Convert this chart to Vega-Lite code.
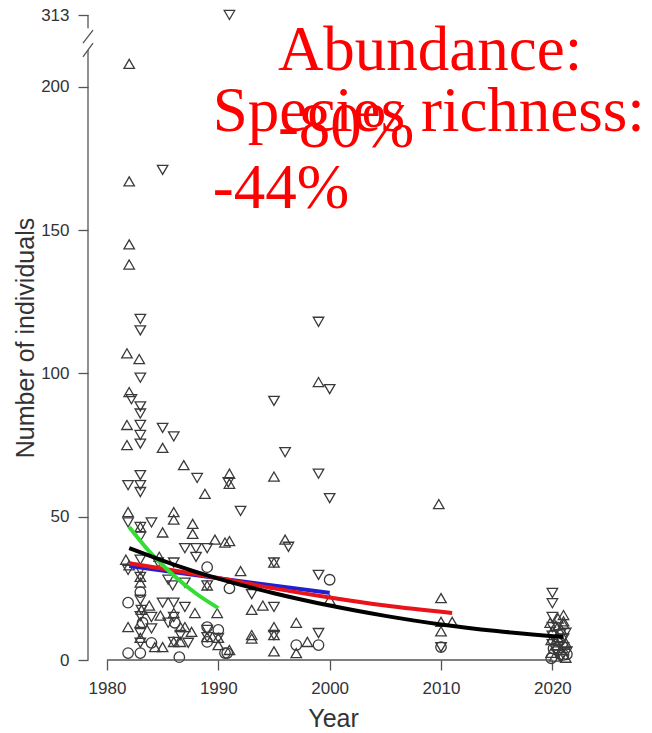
{
  "$schema": "https://vega.github.io/schema/vega-lite/v6.json",
  "width": 490,
  "height": 650,
  "autosize": "none",
  "padding": {"left": 88, "top": 10, "right": 74, "bottom": 73},
  "background": "white",
  "config": {"view": {"stroke": null}, "axis": {"grid": false}},
  "datasets": {
    "points": [
      {"year":1982.0,"count":208,"type":"up"},{"year":1982.0,"count":167,"type":"up"},{"year":1982.0,"count":145,"type":"up"},{"year":1982.0,"count":138,"type":"up"},
      {"year":1985.0,"count":171,"type":"down"},{"year":1991.0,"count":313,"type":"down"},
      {"year":1983.0,"count":119,"type":"down"},{"year":1983.0,"count":115,"type":"down"},{"year":1981.8,"count":107,"type":"up"},{"year":1982.9,"count":105,"type":"up"},
      {"year":1983.0,"count":98.5,"type":"down"},{"year":1982.0,"count":93.5,"type":"up"},{"year":1982.2,"count":91,"type":"down"},{"year":1983.0,"count":88.5,"type":"down"},
      {"year":1983.0,"count":86,"type":"down"},{"year":1981.8,"count":82,"type":"up"},{"year":1983.0,"count":82,"type":"down"},{"year":1983.0,"count":78.5,"type":"down"},
      {"year":1983.0,"count":75.5,"type":"down"},{"year":1981.8,"count":75,"type":"up"},{"year":1985.0,"count":81,"type":"down"},{"year":1986.0,"count":78,"type":"down"},
      {"year":1985.0,"count":74,"type":"up"},{"year":1986.9,"count":68,"type":"up"},{"year":1988.1,"count":63.5,"type":"down"},{"year":1983.0,"count":64.5,"type":"down"},
      {"year":1981.9,"count":61,"type":"down"},{"year":1983.0,"count":61,"type":"down"},{"year":1983.0,"count":58.6,"type":"down"},{"year":1988.8,"count":58,"type":"up"},
      {"year":1981.9,"count":51.6,"type":"up"},{"year":1986.0,"count":51.6,"type":"up"},{"year":1986.0,"count":49,"type":"up"},{"year":1981.9,"count":48,"type":"down"},
      {"year":1984.0,"count":48,"type":"down"},{"year":1983.0,"count":46.4,"type":"up"},{"year":1983.0,"count":46.4,"type":"down"},{"year":1985.0,"count":44.5,"type":"up"},
      {"year":1987.7,"count":47.5,"type":"up"},{"year":1987.7,"count":44,"type":"up"},{"year":1983.0,"count":43,"type":"down"},{"year":1989.7,"count":42,"type":"up"},
      {"year":1990.6,"count":41,"type":"up"},{"year":1987.0,"count":39,"type":"down"},{"year":1988.0,"count":39,"type":"down"},{"year":1989.0,"count":39,"type":"down"},
      {"year":1988.0,"count":36,"type":"down"},{"year":1981.7,"count":35,"type":"up"},{"year":1983.0,"count":35,"type":"down"},{"year":1984.7,"count":36,"type":"up"},
      {"year":1986.0,"count":34,"type":"down"},{"year":1989.0,"count":32.4,"type":"circle"},{"year":1981.9,"count":31.4,"type":"down"},{"year":1983.0,"count":31.4,"type":"down"},
      {"year":1983.0,"count":29,"type":"up"},{"year":1983.0,"count":29,"type":"down"},{"year":1983.0,"count":27,"type":"up"},{"year":1987.0,"count":27,"type":"down"},
      {"year":1985.5,"count":28,"type":"down"},{"year":1989.0,"count":26,"type":"up"},{"year":1989.0,"count":26,"type":"down"},{"year":1983.0,"count":23.7,"type":"circle"},
      {"year":1981.9,"count":20,"type":"circle"},{"year":1983.0,"count":21,"type":"down"},{"year":1983.8,"count":19,"type":"up"},{"year":1985.0,"count":20,"type":"down"},
      {"year":1986.0,"count":20,"type":"down"},{"year":1987.0,"count":18.5,"type":"down"},{"year":1987.9,"count":16.4,"type":"up"},{"year":1989.9,"count":16.4,"type":"up"},
      {"year":1983.1,"count":17.5,"type":"up"},{"year":1983.1,"count":17.5,"type":"down"},{"year":1984.8,"count":15.5,"type":"up"},{"year":1984.0,"count":15,"type":"down"},
      {"year":1986.0,"count":15,"type":"down"},{"year":1986.0,"count":16.4,"type":"up"},{"year":1983.0,"count":15.3,"type":"down"},{"year":1983.0,"count":13,"type":"up"},
      {"year":1983.2,"count":13,"type":"circle"},{"year":1981.9,"count":11.5,"type":"up"},{"year":1984.0,"count":11,"type":"down"},{"year":1985.5,"count":13,"type":"down"},
      {"year":1986.1,"count":13,"type":"circle"},{"year":1986.6,"count":11.5,"type":"up"},{"year":1987.6,"count":9.8,"type":"up"},{"year":1989.0,"count":10.5,"type":"down"},
      {"year":1989.0,"count":11.5,"type":"circle"},{"year":1989.0,"count":8,"type":"up"},{"year":1989.0,"count":8,"type":"down"},{"year":1989.0,"count":6.3,"type":"circle"},
      {"year":1983.0,"count":9.4,"type":"down"},{"year":1983.0,"count":7.7,"type":"up"},{"year":1984.0,"count":6,"type":"circle"},{"year":1983.0,"count":6,"type":"down"},
      {"year":1984.3,"count":4.5,"type":"up"},{"year":1986.0,"count":6.3,"type":"down"},{"year":1986.6,"count":6.3,"type":"up"},{"year":1986.6,"count":8.7,"type":"down"},
      {"year":1987.3,"count":6,"type":"down"},{"year":1981.9,"count":2.4,"type":"circle"},{"year":1983.0,"count":2.4,"type":"circle"},{"year":1986.5,"count":1,"type":"circle"},
      {"year":1990.6,"count":2.4,"type":"circle"},{"year":1985.0,"count":4.5,"type":"up"},{"year":1990.0,"count":10.5,"type":"circle"},{"year":1990.0,"count":7.7,"type":"up"},
      {"year":1990.0,"count":7.7,"type":"down"},{"year":1990.0,"count":5.2,"type":"up"},{"year":1986.0,"count":6.3,"type":"up"},{"year":1987.0,"count":11.5,"type":"up"},
      {"year":1985.9,"count":26,"type":"down"},{"year":1982.0,"count":33,"type":"up"},{"year":1984.6,"count":34,"type":"down"},
      {"year":1991.0,"count":65,"type":"up"},{"year":1990.9,"count":62,"type":"down"},{"year":1991.0,"count":61.5,"type":"up"},{"year":1995.0,"count":64,"type":"up"},
      {"year":1999.0,"count":65,"type":"down"},{"year":2000.0,"count":56.5,"type":"down"},{"year":1992.0,"count":52,"type":"down"},{"year":1995.0,"count":90.4,"type":"down"},
      {"year":1996.0,"count":72.5,"type":"down"},{"year":1999.0,"count":97,"type":"up"},{"year":2000.0,"count":94.5,"type":"down"},{"year":1999.0,"count":118,"type":"down"},
      {"year":1991.0,"count":41.5,"type":"up"},{"year":1996.0,"count":42,"type":"up"},{"year":1996.3,"count":39.5,"type":"down"},{"year":1995.0,"count":34,"type":"up"},
      {"year":1995.0,"count":34,"type":"down"},{"year":1992.0,"count":31,"type":"up"},{"year":1999.0,"count":29.7,"type":"down"},{"year":2000.0,"count":28,"type":"circle"},
      {"year":1991.0,"count":25,"type":"circle"},{"year":1993.0,"count":23,"type":"down"},{"year":1993.0,"count":17.5,"type":"up"},{"year":1994.0,"count":19,"type":"up"},
      {"year":1995.0,"count":18.5,"type":"down"},{"year":1997.0,"count":13,"type":"up"},{"year":1995.0,"count":11.5,"type":"up"},{"year":1995.0,"count":8.7,"type":"up"},
      {"year":1995.0,"count":8.7,"type":"down"},{"year":1993.0,"count":8.7,"type":"up"},{"year":1993.0,"count":7.5,"type":"up"},{"year":1997.0,"count":5.2,"type":"circle"},
      {"year":1998.0,"count":6.3,"type":"up"},{"year":1999.0,"count":5.2,"type":"circle"},{"year":1999.0,"count":9.4,"type":"down"},{"year":1991.0,"count":3.5,"type":"up"},
      {"year":1990.8,"count":2.4,"type":"circle"},{"year":1995.0,"count":3,"type":"up"},{"year":1997.0,"count":2.4,"type":"up"},{"year":2000.0,"count":21,"type":"up"},
      {"year":2009.8,"count":54.4,"type":"up"},{"year":2010.0,"count":21.6,"type":"up"},{"year":2010.0,"count":13.3,"type":"up"},{"year":2011.0,"count":13.3,"type":"up"},
      {"year":2010.0,"count":10,"type":"up"},{"year":2010.0,"count":4.5,"type":"circle"},{"year":2010.0,"count":4.5,"type":"down"},
      {"year":2020.0,"count":23.4,"type":"down"},{"year":2020.0,"count":19.8,"type":"down"},{"year":2021.0,"count":15.7,"type":"up"},{"year":2020.0,"count":15,"type":"down"},
      {"year":2020.5,"count":14.5,"type":"up"},{"year":2021.0,"count":13.5,"type":"up"},{"year":2019.8,"count":13,"type":"up"},{"year":2020.3,"count":12,"type":"up"},
      {"year":2021.0,"count":12.5,"type":"up"},{"year":2020.0,"count":11.5,"type":"down"},{"year":2020.8,"count":10.5,"type":"up"},{"year":2020.0,"count":10,"type":"up"},
      {"year":2021.2,"count":9.5,"type":"down"},{"year":2020.0,"count":8.5,"type":"down"},{"year":2020.5,"count":8,"type":"up"},{"year":2021.0,"count":7.5,"type":"down"},
      {"year":2019.9,"count":7,"type":"up"},{"year":2020.6,"count":6.5,"type":"circle"},{"year":2021.2,"count":6,"type":"up"},{"year":2020.0,"count":5.5,"type":"down"},
      {"year":2020.4,"count":5,"type":"up"},{"year":2021.0,"count":4.5,"type":"down"},{"year":2020.1,"count":4,"type":"circle"},{"year":2020.8,"count":3.5,"type":"up"},
      {"year":2021.3,"count":3,"type":"down"},{"year":2019.9,"count":2.5,"type":"up"},{"year":2020.5,"count":2,"type":"down"},{"year":2021.0,"count":1.8,"type":"circle"},
      {"year":2020.2,"count":1.2,"type":"up"},{"year":2020.8,"count":1,"type":"down"},{"year":2021.2,"count":0.8,"type":"up"},{"year":2019.9,"count":0.6,"type":"circle"},
      {"year":2020.4,"count":3,"type":"down"},{"year":2021.1,"count":5.5,"type":"up"},{"year":2020.7,"count":9,"type":"down"},{"year":2020.3,"count":6.8,"type":"up"},
      {"year":2021.3,"count":2,"type":"circle"}
    ],
    "fits": [
      {"series":"a_blue","year":1982,"count":32.8},{"series":"a_blue","year":1991,"count":28.0},{"series":"a_blue","year":2000,"count":23.4},
      {"series":"b_red","year":1982,"count":33.8},{"series":"b_red","year":1990,"count":28.6},{"series":"b_red","year":1995,"count":25.0},{"series":"b_red","year":2000,"count":21.8},{"series":"b_red","year":2005,"count":19.0},{"series":"b_red","year":2011,"count":16.4},
      {"series":"c_green","year":1982,"count":46.4},{"series":"c_green","year":1984,"count":37.0},{"series":"c_green","year":1986,"count":29.5},{"series":"c_green","year":1988,"count":23.2},{"series":"c_green","year":1990,"count":18.1},
      {"series":"d_black","year":1982,"count":39.0},{"series":"d_black","year":1986,"count":33.3},{"series":"d_black","year":1990,"count":28.4},{"series":"d_black","year":1995,"count":23.3},{"series":"d_black","year":2000,"count":19.0},{"series":"d_black","year":2005,"count":15.4},{"series":"d_black","year":2010,"count":12.4},{"series":"d_black","year":2015,"count":10.1},{"series":"d_black","year":2021,"count":8.0}
    ],
    "one": [{"axisline": "segment"}]
  },
  "layer": [
    {
      "data": {"name": "points"},
      "mark": {"type": "point", "filled": false, "size": 110, "strokeWidth": 1.3, "color": "#3a3a3a", "opacity": 1},
      "encoding": {
        "x": {"field": "year", "type": "quantitative",
          "scale": {"domain": [1978.3, 2022.3], "nice": false, "zero": false},
          "axis": {"values": [1980, 1990, 2000, 2010, 2020], "format": "d", "domain": false, "tickSize": 10, "tickColor": "#555", "tickWidth": 1.3,
            "labelFont": "Liberation Sans", "labelFontSize": 17, "labelColor": "#333", "labelPadding": 10,
            "title": "Year", "titleFont": "Liberation Sans", "titleFontSize": 25, "titleFontWeight": "normal", "titleColor": "#333", "titlePadding": 10}},
        "y": {"field": "count", "type": "quantitative",
          "scale": {"domain": [0, 218, 313], "range": [650, 25.2, 5], "nice": false, "zero": false},
          "axis": {"values": [0, 50, 100, 150, 200, 313], "domain": false, "tickSize": 10, "tickColor": "#555", "tickWidth": 1.3,
            "labelFont": "Liberation Sans", "labelFontSize": 17, "labelColor": "#333", "labelPadding": 9,
            "title": "Number of individuals", "titleFont": "Liberation Sans", "titleFontSize": 25, "titleFontWeight": "normal", "titleColor": "#333", "titlePadding": 2}},
        "shape": {"field": "type", "type": "nominal",
          "scale": {"domain": ["up", "down", "circle"], "range": ["triangle-up", "triangle-down", "circle"]}, "legend": null}
      }
    },
    {
      "data": {"name": "fits"},
      "mark": {"type": "line", "strokeWidth": 4, "strokeCap": "butt", "interpolate": "monotone"},
      "encoding": {
        "x": {"field": "year", "type": "quantitative"},
        "y": {"field": "count", "type": "quantitative"},
        "color": {"field": "series", "type": "nominal",
          "scale": {"domain": ["a_blue", "b_red", "c_green", "d_black"], "range": ["#2020d0", "#e8141a", "#33dd33", "#000000"]}, "legend": null}
      }
    },
    {
      "data": {"name": "one"},
      "mark": {"type": "rule", "color": "#555", "strokeWidth": 1.3},
      "encoding": {"x": {"datum": 1978.3, "type": "quantitative"}, "y": {"datum": 0, "type": "quantitative"}, "y2": {"datum": 212.8}}
    },
    {
      "data": {"name": "one"},
      "mark": {"type": "rule", "color": "#555", "strokeWidth": 1.3},
      "encoding": {"x": {"datum": 1978.3, "type": "quantitative"}, "y": {"datum": 251, "type": "quantitative"}, "y2": {"datum": 313}}
    },
    {
      "data": {"name": "one"},
      "mark": {"type": "rule", "color": "#555", "strokeWidth": 1.3},
      "encoding": {"x": {"datum": 1977.85, "type": "quantitative"}, "x2": {"datum": 1978.75}, "y": {"datum": 215.2, "type": "quantitative"}, "y2": {"datum": 241.7}}
    },
    {
      "data": {"name": "one"},
      "mark": {"type": "rule", "color": "#555", "strokeWidth": 1.3},
      "encoding": {"x": {"datum": 1977.85, "type": "quantitative"}, "x2": {"datum": 1978.75}, "y": {"datum": 210.4, "type": "quantitative"}, "y2": {"datum": 215.2}}
    },
    {
      "data": {"name": "one"},
      "mark": {"type": "rule", "color": "#555", "strokeWidth": 1.3},
      "encoding": {"x": {"datum": 1980, "type": "quantitative"}, "x2": {"datum": 2020}, "y": {"datum": 0, "type": "quantitative"}}
    },
    {
      "data": {"values": [{"label": "Abundance:\n-80%"}]},
      "mark": {"type": "text", "font": "Liberation Serif", "fontSize": 63, "color": "#ff0000", "align": "left", "baseline": "alphabetic", "lineBreak": "\n", "lineHeight": 77},
      "encoding": {"text": {"field": "label"}, "x": {"datum": 1995.35, "type": "quantitative"}, "y": {"datum": 205.9, "type": "quantitative"}}
    },
    {
      "data": {"values": [{"label": "Species richness:\n-44%"}]},
      "mark": {"type": "text", "font": "Liberation Serif", "fontSize": 63, "color": "#ff0000", "align": "left", "baseline": "alphabetic", "lineBreak": "\n", "lineHeight": 77},
      "encoding": {"text": {"field": "label"}, "x": {"datum": 1989.5, "type": "quantitative"}, "y": {"datum": 184.6, "type": "quantitative"}}
    }
  ]
}
